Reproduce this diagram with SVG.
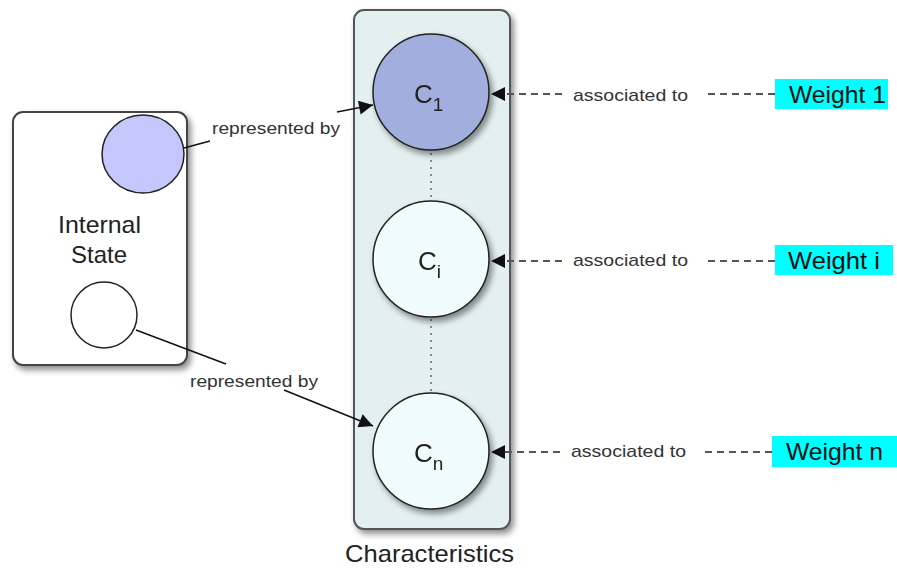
<svg xmlns="http://www.w3.org/2000/svg" width="897" height="569" viewBox="0 0 897 569">
<style>
text{font-family:"Liberation Sans",Arial,sans-serif;fill:#222}
.lbl{font-size:17px;fill:#333}
.big{font-size:24px}
.wt{font-size:24px;fill:#111}
.node{stroke:#222;stroke-width:1.5}
.dash{stroke:#555;stroke-width:2;stroke-dasharray:7,5;fill:none}
.dot{stroke:#888;stroke-width:2;stroke-dasharray:2,5;fill:none}
.solid{stroke:#111;stroke-width:1.5;fill:none}
</style>
<defs>
<filter id="sh" x="-20%" y="-20%" width="150%" height="150%">
<feGaussianBlur in="SourceAlpha" stdDeviation="3"/>
<feOffset dx="3" dy="4"/>
<feComponentTransfer><feFuncA type="linear" slope="0.45"/></feComponentTransfer>
<feMerge><feMergeNode/><feMergeNode in="SourceGraphic"/></feMerge>
</filter>
<marker id="ahs" viewBox="0 0 10 10" refX="10" refY="5" markerWidth="20" markerHeight="14" markerUnits="userSpaceOnUse" orient="auto">
<path d="M0,0 L10,5 L0,10 z" fill="#111"/>
</marker>
</defs>

<g id="internal-state">
<rect x="13" y="112" width="174" height="253" rx="10" fill="#fff" stroke="#444" stroke-width="2" filter="url(#sh)"/>
<text class="big" x="58" y="233" textLength="83" lengthAdjust="spacingAndGlyphs">Internal</text>
<text class="big" x="99" y="263" text-anchor="middle">State</text>
</g>
<g id="state-purple">
<ellipse cx="143" cy="154" rx="41" ry="39" fill="#c5c6fb" class="node"/>
</g>
<g id="state-white">
<circle cx="104" cy="315" r="33" fill="#fff" class="node"/>
</g>

<g id="characteristics">
<rect x="354" y="10" width="156" height="519" rx="10" fill="#e4f0f0" stroke="#555" stroke-width="2" filter="url(#sh)"/>
<text class="big" x="345" y="562" textLength="169" lengthAdjust="spacingAndGlyphs">Characteristics</text>
</g>

<g id="connectors">
<line class="dot" x1="431" y1="153" x2="431" y2="200"/>
<line class="dot" x1="431" y1="319" x2="431" y2="392"/>
<path class="solid" d="M184,148 L210,141"/>
<path class="solid" d="M337,112 L373,105" marker-end="url(#ahs)"/>
<path class="solid" d="M136,330 L226,364"/>
<path class="solid" d="M284,390 L373,426" marker-end="url(#ahs)"/>
<path class="dash" d="M775,94 L705,94"/>
<path class="dash" d="M562,94 L491,94" marker-end="url(#ahs)"/>
<path class="dash" d="M775,261 L705,261"/>
<path class="dash" d="M562,261 L491,261" marker-end="url(#ahs)"/>
<path class="dash" d="M772,452 L702,452"/>
<path class="dash" d="M560,452 L491,452" marker-end="url(#ahs)"/>
<text class="lbl" x="212" y="134" textLength="128" lengthAdjust="spacingAndGlyphs">represented by</text>
<text class="lbl" x="190" y="387" textLength="128" lengthAdjust="spacingAndGlyphs">represented by</text>
<text class="lbl" x="573" y="101" textLength="115" lengthAdjust="spacingAndGlyphs">associated to</text>
<text class="lbl" x="573" y="266" textLength="115" lengthAdjust="spacingAndGlyphs">associated to</text>
<text class="lbl" x="571" y="457" textLength="115" lengthAdjust="spacingAndGlyphs">associated to</text>
</g>

<g id="c1" filter="url(#sh)">
<circle cx="431" cy="92" r="58" fill="#a2aedd" class="node"/>
<text x="414" y="103" font-size="26">C<tspan font-size="19" dy="8">1</tspan></text>
</g>
<g id="ci" filter="url(#sh)">
<circle cx="431" cy="259" r="58" fill="#f0fbfb" class="node"/>
<text x="418" y="270" font-size="26">C<tspan font-size="19" dy="8">i</tspan></text>
</g>
<g id="cn" filter="url(#sh)">
<circle cx="431" cy="451" r="58" fill="#f0fbfb" class="node"/>
<text x="414" y="462" font-size="26">C<tspan font-size="19" dy="8">n</tspan></text>
</g>

<g id="weight1">
<rect x="775" y="79" width="113" height="30" fill="#00ffff"/>
<text class="wt" x="789" y="103" textLength="97" lengthAdjust="spacingAndGlyphs">Weight 1</text>
</g>
<g id="weighti">
<rect x="775" y="245" width="118" height="30" fill="#00ffff"/>
<text class="wt" x="788" y="269" textLength="92" lengthAdjust="spacingAndGlyphs">Weight i</text>
</g>
<g id="weightn">
<rect x="772" y="436" width="125" height="31" fill="#00ffff"/>
<text class="wt" x="786" y="460" textLength="97" lengthAdjust="spacingAndGlyphs">Weight n</text>
</g>
</svg>
